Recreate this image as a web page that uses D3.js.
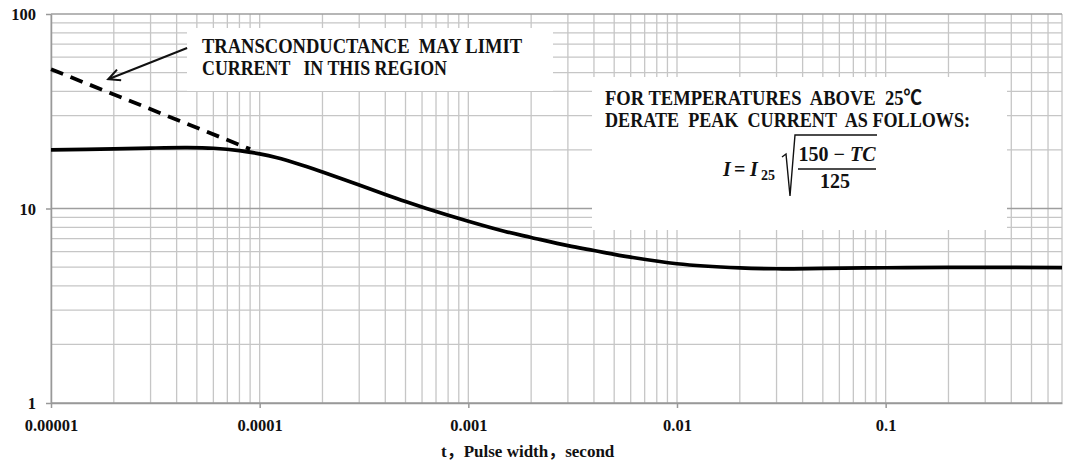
<!DOCTYPE html>
<html>
  <head>
    <title>Peak current vs pulse width</title>
    <script src="https://d3js.org/d3.v7.min.js"></script>
    <style>
      body { margin: 0; background: #fff; }
      text { font-family: 'Liberation Serif', 'Times New Roman', 'Noto Sans CJK SC', serif; font-weight: bold; fill: #111; white-space: pre; }
    </style>
  </head>
  <body>
    <svg width="1067" height="464"></svg>
    <script>
      (function (d3) {
        'use strict';

        // pulse width (s) and peak current (A) for the solid curve
        const pulseWidth = [1e-5, 2e-5, 3e-5, 4.5e-5, 6e-5, 8e-5, 1e-4, 1.2e-4, 1.6e-4, 2e-4, 3e-4, 4e-4, 5e-4, 6.3e-4, 1e-3, 1.5e-3, 2e-3, 3e-3, 4e-3, 6e-3, 1e-2, 2e-2, 3e-2, 5e-2, 0.1, 0.2, 0.7];
        const peakCurrent = [20.0, 20.25, 20.45, 20.55, 20.4, 19.85, 19.1, 18.3, 16.7, 15.4, 13.2, 11.8, 10.85, 10.0, 8.6, 7.62, 7.1, 6.44, 6.08, 5.62, 5.2, 4.95, 4.9, 4.92, 4.96, 4.98, 4.97];

        // transconductance limit (dashed)
        const limitWidth = [1e-5, 9e-5];
        const limitCurrent = [52, 20.2];

        const xTickValues = [1e-5, 1e-4, 1e-3, 1e-2, 1e-1];
        const xTickLabels = ['0.00001', '0.0001', '0.001', '0.01', '0.1'];
        const yTickValues = [1, 10, 100];
        const yTickLabels = ['1', '10', '100'];

        const svg = d3.select('svg');
        const margin = { top: 14, right: 5, bottom: 61, left: 51 };
        const width = 1067, height = 464;

        const x = d3.scaleLog().domain([1e-5, 0.7]).range([margin.left, width - margin.right]);
        const y = d3.scaleLog().domain([1, 100]).range([height - margin.bottom, margin.top]);

        // grid
        const grid = svg.append('g');
        grid.selectAll('line.vx')
          .data(x.ticks())
          .join('line')
          .attr('x1', (d) => x(d)).attr('x2', (d) => x(d))
          .attr('y1', y(1)).attr('y2', y(100))
          .attr('stroke', '#c6c6c6')
          .attr('stroke-width', 1.3);
        grid.selectAll('line.hy')
          .data(y.ticks())
          .join('line')
          .attr('x1', x(1e-5)).attr('x2', x(0.7))
          .attr('y1', (d) => y(d)).attr('y2', (d) => y(d))
          .attr('stroke', (d) => (yTickValues.includes(d) ? '#9e9e9e' : '#c6c6c6'))
          .attr('stroke-width', 1.3);

        // annotation boxes hide the grid
        svg.append('rect').attr('x', 187).attr('y', 28).attr('width', 366).attr('height', 63).attr('fill', '#fff');
        svg.append('rect').attr('x', 592).attr('y', 77).attr('width', 415).attr('height', 153).attr('fill', '#fff');

        // axes
        const xAxisG = svg.append('g')
          .attr('transform', `translate(0,${y(1)})`)
          .call(d3.axisBottom(x).tickValues(xTickValues).tickSize(5).tickSizeOuter(0)
            .tickFormat((d, i) => xTickLabels[i]));
        xAxisG.select('.domain').attr('stroke', '#999').attr('stroke-width', 1.5);
        xAxisG.selectAll('.tick line').attr('stroke', '#999').attr('stroke-width', 1.5);
        xAxisG.selectAll('.tick text')
          .attr('y', 28).attr('dy', null)
          .style('font-size', '16.5px').attr('fill', '#111');

        const yAxisG = svg.append('g')
          .attr('transform', `translate(${x(1e-5)},0)`)
          .call(d3.axisLeft(y).tickValues(yTickValues).tickSize(5).tickSizeOuter(0)
            .tickFormat((d, i) => yTickLabels[i]));
        yAxisG.select('.domain').attr('stroke', '#999').attr('stroke-width', 1.5);
        yAxisG.selectAll('.tick line').attr('stroke', '#999').attr('stroke-width', 1.5);
        yAxisG.selectAll('.tick text')
          .attr('x', -15).attr('dy', '0.35em')
          .style('font-size', '16.5px').attr('fill', '#111');

        svg.append('text')
          .attr('x', 441).attr('y', 457)
          .style('font-size', '17px')
          .text('t，Pulse width，second');

        // curves
        const line = d3.line()
          .x((d) => x(d[0]))
          .y((d) => y(d[1]))
          .curve(d3.curveCatmullRom.alpha(0.5));

        svg.append('path')
          .datum(d3.zip(limitWidth, limitCurrent))
          .attr('d', line)
          .attr('fill', 'none')
          .attr('stroke', '#000')
          .attr('stroke-width', 3.8)
          .attr('stroke-dasharray', '13,8');

        svg.append('path')
          .datum(d3.zip(pulseWidth, peakCurrent))
          .attr('d', line)
          .attr('fill', 'none')
          .attr('stroke', '#000')
          .attr('stroke-width', 3.7)
          .attr('stroke-linejoin', 'round');

        // annotation 1 with arrow
        svg.append('text').attr('x', 202).attr('y', 53).style('font-size', '20px')
          .attr('textLength', 320).attr('lengthAdjust', 'spacingAndGlyphs')
          .text('TRANSCONDUCTANCE  MAY LIMIT');
        svg.append('text').attr('x', 202).attr('y', 75).style('font-size', '20px')
          .attr('textLength', 245).attr('lengthAdjust', 'spacingAndGlyphs')
          .text('CURRENT   IN THIS REGION');

        const ax0 = [x(4.49e-5), y(66.9)], ax1 = [x(1.88e-5), y(46.2)];
        const ang = Math.atan2(ax0[1] - ax1[1], ax0[0] - ax1[0]);
        const head = 13, spread = 0.45;
        svg.append('path')
          .attr('d', `M${ax0[0]},${ax0[1]}L${ax1[0]},${ax1[1]}` +
            `M${ax1[0] + head * Math.cos(ang - spread)},${ax1[1] + head * Math.sin(ang - spread)}` +
            `L${ax1[0]},${ax1[1]}` +
            `L${ax1[0] + head * Math.cos(ang + spread)},${ax1[1] + head * Math.sin(ang + spread)}`)
          .attr('fill', 'none').attr('stroke', '#111').attr('stroke-width', 2);

        // annotation 2 with formula
        svg.append('text').attr('x', 605).attr('y', 105).style('font-size', '20px')
          .attr('textLength', 317).attr('lengthAdjust', 'spacingAndGlyphs')
          .text('FOR TEMPERATURES  ABOVE  25℃');
        svg.append('text').attr('x', 605).attr('y', 127).style('font-size', '20px')
          .attr('textLength', 365).attr('lengthAdjust', 'spacingAndGlyphs')
          .text('DERATE  PEAK  CURRENT  AS FOLLOWS:');

        svg.append('text').attr('x', 723).attr('y', 176).style('font-size', '20px').style('font-style', 'italic').text('I');
        svg.append('text').attr('x', 734).attr('y', 176).style('font-size', '20px').text('=');
        svg.append('text').attr('x', 750).attr('y', 176).style('font-size', '20px').style('font-style', 'italic').text('I');
        svg.append('text').attr('x', 761).attr('y', 180).style('font-size', '14px').text('25');
        svg.append('path')
          .attr('d', 'M782,157L786,154L790,196L795,135L877,135')
          .attr('fill', 'none').attr('stroke', '#111').attr('stroke-width', 1.4);
        svg.append('line').attr('x1', 798).attr('x2', 876).attr('y1', 169).attr('y2', 169)
          .attr('stroke', '#111').attr('stroke-width', 1.5);
        const num = svg.append('text').attr('x', 837).attr('y', 161).attr('text-anchor', 'middle').style('font-size', '20px');
        num.append('tspan').text('150 − ');
        num.append('tspan').style('font-style', 'italic').text('TC');
        svg.append('text').attr('x', 835).attr('y', 188).attr('text-anchor', 'middle').style('font-size', '20px').text('125');
      })(d3);
    </script>
  </body>
</html>
